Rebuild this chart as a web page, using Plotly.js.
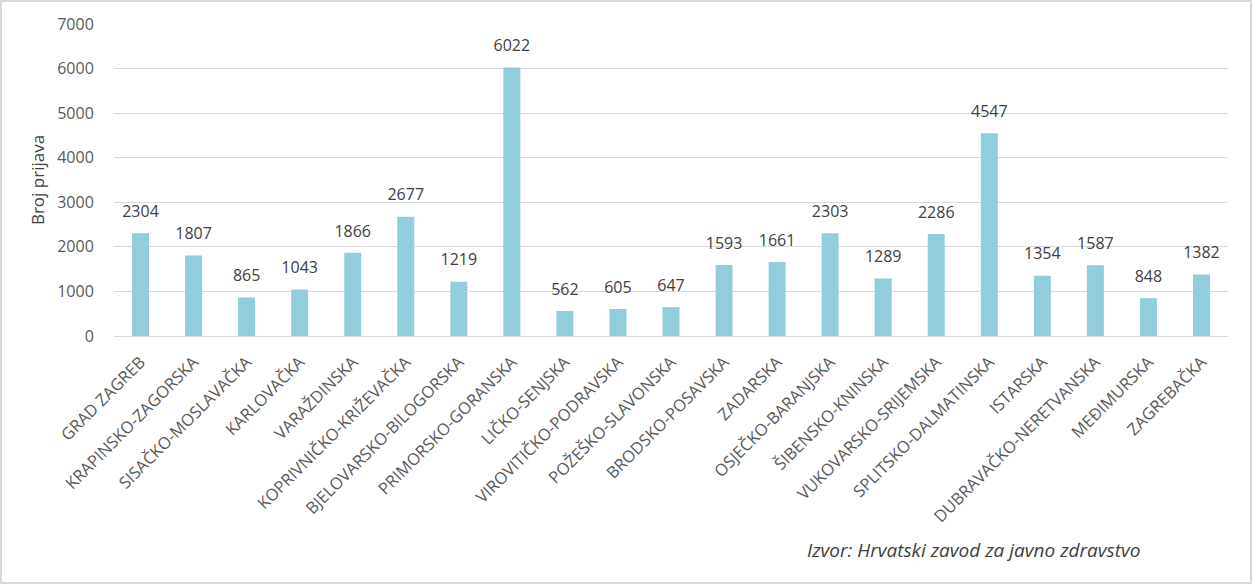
<!DOCTYPE html>
<html><head><meta charset="utf-8">
<script src="https://cdn.plot.ly/plotly-3.0.1.min.js"></script>
<style>body{margin:0;background:#fff}#wrap{position:relative;width:1252px;height:584px}#frame{position:absolute;left:0;top:0;width:1252px;height:584px;box-sizing:border-box;border:2px solid #d9d9d9;pointer-events:none}</style>
</head><body><div id="wrap"><div id="chart" style="width:1252px;height:584px"></div><div id="frame"></div></div>
<script>
const regions = ["GRAD ZAGREB","KRAPINSKO-ZAGORSKA","SISAČKO-MOSLAVAČKA","KARLOVAČKA","VARAŽDINSKA","KOPRIVNIČKO-KRIŽEVAČKA","BJELOVARSKO-BILOGORSKA","PRIMORSKO-GORANSKA","LIČKO-SENJSKA","VIROVITIČKO-PODRAVSKA","POŽEŠKO-SLAVONSKA","BRODSKO-POSAVSKA","ZADARSKA","OSJEČKO-BARANJSKA","ŠIBENSKO-KNINSKA","VUKOVARSKO-SRIJEMSKA","SPLITSKO-DALMATINSKA","ISTARSKA","DUBRAVAČKO-NERETVANSKA","MEĐIMURSKA","ZAGREBAČKA"];
const reports = [2304,1807,865,1043,1866,2677,1219,6022,562,605,647,1593,1661,2303,1289,2286,4547,1354,1587,848,1382];
const yTicks = [0,1000,2000,3000,4000,5000,6000,7000];
const yTitle = "Broj prijava";
const source = "Izvor: Hrvatski zavod za javno zdravstvo";
const font = "Open Sans, Liberation Sans, sans-serif";
Plotly.newPlot("chart", [{
  type:"bar", x:regions, y:reports,
  marker:{color:"#92cddc"}, hoverinfo:"skip"
},{
  type:"scatter", mode:"markers+text", x:regions, y:reports,
  marker:{size:18, color:"rgba(0,0,0,0)"},
  text:reports.map(String), textposition:"top center", cliponaxis:false,
  textfont:{family:font,size:16,color:"#404040"}
}], {
  width:1252, height:584,
  margin:{l:114,r:24,t:24,b:248},
  paper_bgcolor:"#fff", plot_bgcolor:"#fff",
  bargap:0.68, showlegend:false,
  font:{family:font,color:"#595959"},
  xaxis:{type:"category", range:[-0.5, regions.length-0.5], autorange:false, tickangle:-45, tickfont:{size:16.5,color:"#595959"}, showgrid:false, showline:true, linecolor:"#d9d9d9", linewidth:1, ticks:"outside", ticklen:9, tickcolor:"rgba(0,0,0,0)"},
  yaxis:{range:[0,7000], autorange:false, tickvals:yTicks, tickfont:{size:16,color:"#595959"}, gridcolor:"#d9d9d9", gridwidth:1, zeroline:false, showline:false, ticks:"outside", ticklen:16, tickcolor:"rgba(0,0,0,0)",
    title:{text:yTitle, font:{size:17,color:"#404040"}, standoff:8}},
  annotations:[{text:source, xref:"paper", yref:"paper", x:1, y:0, xanchor:"right", yanchor:"middle", xshift:-86, yshift:-214, showarrow:false, font:{family:font,size:19,color:"#404040",style:"italic"}}]
}, {displayModeBar:false, staticPlot:true});
</script></body></html>
